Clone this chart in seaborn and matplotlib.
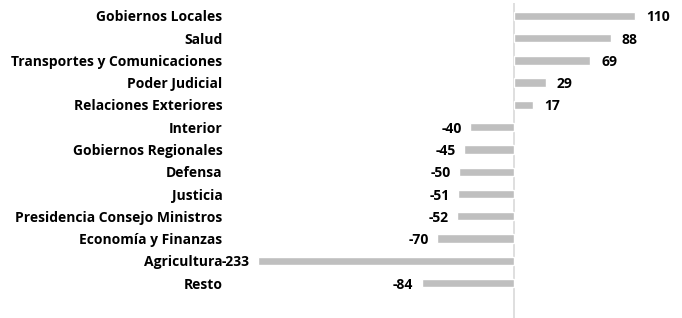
import matplotlib
matplotlib.use("Agg")
import matplotlib.pyplot as plt
import seaborn as sns
import pandas as pd

categories = ["Gobiernos Locales", "Salud", "Transportes y Comunicaciones", "Poder Judicial",
              "Relaciones Exteriores", "Interior", "Gobiernos Regionales", "Defensa", "Justicia",
              "Presidencia Consejo Ministros", "Economía y Finanzas", "Agricultura", "Resto"]
values = [110, 88, 69, 29, 17, -40, -45, -50, -51, -52, -70, -233, -84]

df = pd.DataFrame({"cat": categories, "val": values})

sns.set_theme(style="white")
plt.rcParams['font.family'] = ['Open Sans', 'DejaVu Sans']

W, H = 682, 318
fig = plt.figure(figsize=(W / 100, H / 100), dpi=100)
L, R, T, B = 257, 640, 3, 318
ax = fig.add_axes([L / W, 1 - B / H, (R - L) / W, (B - T) / H])

sns.barplot(data=df, x="val", y="cat", orient="h", color="#bfbfbf", saturation=1,
            width=0.38, ax=ax, zorder=2)

ax.set_xlim(-233.5, 114.5)
ax.set_ylim(13.57, -0.58)
ax.axvline(0, color="#d9d9d9", lw=1.2, zorder=1)

for s in ax.spines.values():
    s.set_visible(False)
ax.set_xticks([])
ax.set_xlabel("")
ax.set_ylabel("")
ax.tick_params(axis="y", length=0, pad=25)
FS = 10
for lab in ax.get_yticklabels():
    lab.set_fontweight("bold")
    lab.set_fontsize(FS)
    lab.set_color("#000000")

for i, v in enumerate(values):
    if v >= 0:
        ax.annotate(f"{v}", xy=(v, i), xytext=(8, 0), textcoords="offset points",
                    ha="left", va="center_baseline", fontsize=FS, fontweight="bold", color="#000000")
    else:
        ax.annotate(f"{v}", xy=(v, i), xytext=(-6, 0), textcoords="offset points",
                    ha="right", va="center_baseline", fontsize=FS, fontweight="bold", color="#000000")

fig.savefig("out.png", dpi=100)
